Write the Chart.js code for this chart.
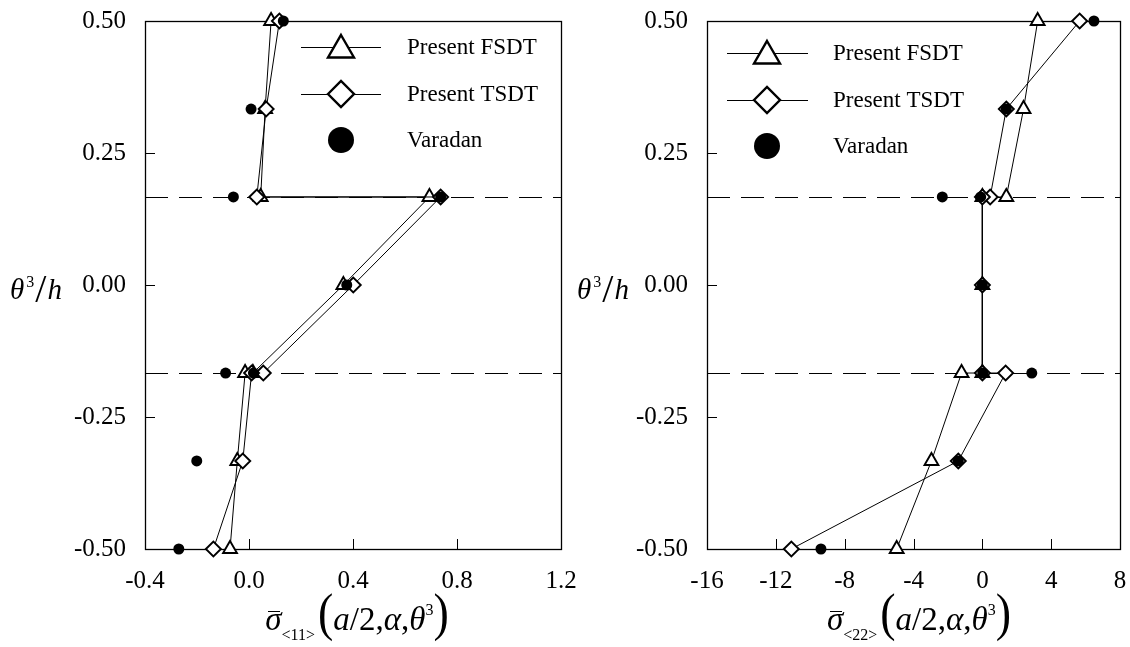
<!DOCTYPE html>
<html>
<head>
<meta charset="utf-8">
<title>Stress distribution through the thickness</title>
<script src="https://cdn.jsdelivr.net/npm/chart.js@4.4.1/dist/chart.umd.min.js"></script>
<style>
  html, body { margin: 0; padding: 0; background: #fff; }
  #page { position: relative; width: 1130px; height: 647px; overflow: hidden; font-family: 'Liberation Serif', 'Times New Roman', serif; color: #000; }
  #page canvas { position: absolute; left: 0; top: 0; }
  .ytitle { position: absolute; top: 262px; font-size: 29px; line-height: 40px; white-space: nowrap; }
  .ytitle sup { font-size: 16px; font-style: normal; vertical-align: 12px; margin-left: 2px; }
  .ytitle .slash { display: inline-block; font-size: 40px; transform: translateY(3px); margin: 0 1px; }
  .xtitle { position: absolute; top: 582px; width: 416px; text-align: center; font-size: 33px; line-height: 56px; white-space: nowrap; }
  .xtitle .sig { position: relative; font-style: italic; }
  .xtitle .sig::after { content: ''; position: absolute; left: 3px; right: 1px; top: 0.3em; border-top: 1.6px solid #000; }
  .xtitle sub { font-size: 16px; vertical-align: -10px; margin-right: 3px; }
  .xtitle sup { font-size: 16px; vertical-align: 15px; }
  .xtitle .paren { display: inline-block; font-size: 46px; transform: scaleY(1.15) translateY(-2px); }
</style>
</head>
<body>
<div id="page">
  <canvas id="chartS11" width="1130" height="647"></canvas>
  <canvas id="chartS22" width="1130" height="647"></canvas>

  <div class="ytitle" style="left:10px"><i>θ</i><sup>3</sup><span class="slash">/</span><i>h</i></div>
  <div class="ytitle" style="left:577px"><i>θ</i><sup>3</sup><span class="slash">/</span><i>h</i></div>

  <div class="xtitle" style="left:149px"><span class="sig">σ</span><sub>&lt;11&gt;</sub><span class="paren">(</span><i>a</i>/2,<i>α</i>,<i>θ</i><sup>3</sup><span class="paren">)</span></div>
  <div class="xtitle" style="left:711px"><span class="sig">σ</span><sub>&lt;22&gt;</sub><span class="paren">(</span><i>a</i>/2,<i>α</i>,<i>θ</i><sup>3</sup><span class="paren">)</span></div>
</div>

<script>
// thickness coordinate theta3/h; layer interfaces appear twice (one value per layer)
const theta = [0.5, 0.3333, 0.1667, 0.1667, 0, -0.1667, -0.1667, -0.3333, -0.5];
const interfaces = [0.1667, -0.1667];

// sigma<11>(a/2, alpha, theta3)
const s11Fsdt    = [0.085, 0.062, 0.045, 0.694, 0.363, 0.015, -0.015, -0.045, -0.073];
const s11Tsdt    = [0.117, 0.066, 0.030, 0.737, 0.401, 0.055, 0.010, -0.024, -0.137];
const s11Varadan = [0.132, 0.008, -0.060, 0.737, 0.376, 0.017, -0.090, -0.201, -0.270];

// sigma<22>(a/2, alpha, theta3)
const s22Fsdt    = [3.21, 2.39, 1.39, 0.00, 0.00, 0.00, -1.21, -2.96, -4.98];
const s22Tsdt    = [5.65, 1.39, 0.45, 0.00, 0.00, 0.00, 1.35, -1.40, -11.10];
const s22Varadan = [6.48, 1.39, -2.33, -0.10, 0.00, 0.02, 2.87, -1.40, -9.38];

const yTicks = [-0.5, -0.25, 0, 0.25, 0.5];
const s11Ticks = [-0.4, 0.0, 0.4, 0.8, 1.2];
const s22Ticks = [-16, -12, -8, -4, 0, 4, 8];

const seriesNames = ['Present FSDT', 'Present TSDT', 'Varadan'];

Chart.defaults.font.family = "'Liberation Serif', 'Times New Roman', serif";
Chart.defaults.color = '#000';

const toPoints = vals => vals.map((v, i) => ({ x: v, y: theta[i] }));

// legend marker look (bigger than the plotted ones)
const legendMarks = [
  { pointStyle: 'triangle', radius: 15, borderWidth: 2.4, fill: '#fff', line: true },
  { pointStyle: 'rectRot', radius: 13, borderWidth: 2.4, fill: '#fff', line: true },
  { pointStyle: 'circle', radius: 13, borderWidth: 0, fill: '#000', line: false }
];

const framePlugin = {
  id: 'frame',
  beforeDatasetsDraw(chart) {
    const { ctx, chartArea: a, scales: { x, y } } = chart;
    ctx.save();
    ctx.strokeStyle = '#000';
    ctx.lineWidth = 1;

    // dashed lines at the layer interfaces
    ctx.setLineDash([23, 11]);
    interfaces.forEach(v => {
      const py = Math.round(y.getPixelForValue(v)) + 0.5;
      ctx.beginPath();
      ctx.moveTo(a.left, py);
      ctx.lineTo(a.right, py);
      ctx.stroke();
    });
    ctx.setLineDash([]);

    // box round the plot
    ctx.lineWidth = 1.3;
    ctx.strokeRect(Math.round(a.left) + 0.5, Math.round(a.top) + 0.5,
      Math.round(a.right - a.left), Math.round(a.bottom - a.top));

    // inward tick marks
    ctx.lineWidth = 1;
    ctx.beginPath();
    y.ticks.forEach(t => {
      const py = Math.round(y.getPixelForValue(t.value)) + 0.5;
      ctx.moveTo(a.left, py);
      ctx.lineTo(a.left + 10, py);
    });
    x.ticks.forEach(t => {
      const px = Math.round(x.getPixelForValue(t.value)) + 0.5;
      ctx.moveTo(px, a.bottom);
      ctx.lineTo(px, a.bottom - 10);
    });
    ctx.stroke();
    ctx.restore();
  },
  afterDatasetsDraw(chart, args, opts) {
    const { ctx, chartArea: a } = chart;
    ctx.save();
    ctx.font = "23px 'Liberation Serif', 'Times New Roman', serif";
    ctx.textBaseline = 'middle';
    ctx.fillStyle = '#000';
    seriesNames.forEach((name, i) => {
      const m = legendMarks[i];
      const ly = opts.rows[i];
      const x0 = a.left + opts.lineX0, x1 = a.left + opts.lineX1, mx = a.left + opts.markX;
      ctx.strokeStyle = '#000';
      if (m.line) {
        ctx.lineWidth = 1;
        ctx.beginPath();
        ctx.moveTo(x0, ly + 0.5);
        ctx.lineTo(x1, ly + 0.5);
        ctx.stroke();
      }
      ctx.fillStyle = m.fill;
      ctx.lineWidth = m.borderWidth;
      Chart.helpers.drawPoint(ctx, { pointStyle: m.pointStyle, radius: m.radius, borderWidth: m.borderWidth, rotation: 0 }, mx, ly + (m.pointStyle === 'triangle' ? 3 : 0));
      ctx.fillStyle = '#000';
      ctx.fillText(name, a.left + opts.textX, ly + 1);
    });
    ctx.restore();
  }
};

function makeChart(id, xTicks, values, pad, legendOpts, fmt) {
  const fixTicks = list => scale => { scale.ticks = list.map(v => ({ value: v })); };
  return new Chart(document.getElementById(id), {
    type: 'scatter',
    data: {
      datasets: [
        {
          label: seriesNames[2], data: toPoints(values[2]), showLine: false,
          pointStyle: 'circle', pointRadius: 5.5, pointHoverRadius: 5.5,
          pointBackgroundColor: '#000', pointBorderColor: '#000', pointBorderWidth: 0,
          order: 0, clip: false
        },
        {
          label: seriesNames[1], data: toPoints(values[1]), showLine: true,
          borderColor: '#000', borderWidth: 1, tension: 0,
          pointStyle: 'rectRot', pointRadius: 7.5, pointHoverRadius: 7.5,
          pointBackgroundColor: '#fff', pointBorderColor: '#000', pointBorderWidth: 1.9,
          order: 1, clip: false
        },
        {
          label: seriesNames[0], data: toPoints(values[0]), showLine: true,
          borderColor: '#000', borderWidth: 1, tension: 0,
          pointStyle: 'triangle', pointRadius: 8, pointHoverRadius: 8,
          pointBackgroundColor: '#fff', pointBorderColor: '#000', pointBorderWidth: 1.9,
          order: 2, clip: false
        }
      ]
    },
    options: {
      responsive: false,
      animation: false,
      devicePixelRatio: 1,
      layout: { padding: pad },
      plugins: {
        legend: { display: false },
        tooltip: { enabled: false },
        frame: legendOpts
      },
      events: [],
      scales: {
        x: {
          type: 'linear',
          min: xTicks[0], max: xTicks[xTicks.length - 1],
          afterBuildTicks: fixTicks(xTicks),
          afterFit: s => { s.height = 50; s.paddingLeft = s.paddingRight = 0; },
          grid: { display: false, drawTicks: false },
          border: { display: false },
          ticks: { font: { size: 25 }, padding: 17, maxRotation: 0, autoSkip: false, callback: fmt }
        },
        y: {
          type: 'linear',
          min: -0.5, max: 0.5,
          afterBuildTicks: fixTicks(yTicks),
          afterFit: s => { s.width = 140; s.paddingTop = s.paddingBottom = 0; },
          grid: { display: false, drawTicks: false },
          border: { display: false },
          ticks: { font: { size: 25 }, padding: 19, autoSkip: false, callback: v => v.toFixed(2) }
        }
      }
    },
    plugins: [framePlugin]
  });
}

makeChart('chartS11', s11Ticks, [s11Fsdt, s11Tsdt, s11Varadan],
  { left: 5, right: 569, top: 21, bottom: 48 },
  { lineX0: 156, lineX1: 236, markX: 196, textX: 262, rows: [47, 94, 140] },
  v => (Math.abs(v) < 1e-9 ? 0 : v).toFixed(1));

makeChart('chartS22', s22Ticks, [s22Fsdt, s22Tsdt, s22Varadan],
  { left: 567, right: 7, top: 21, bottom: 48 },
  { lineX0: 20, lineX1: 101, markX: 60, textX: 126, rows: [53, 100, 146] },
  v => String(Math.round(v)));
</script>
</body>
</html>
